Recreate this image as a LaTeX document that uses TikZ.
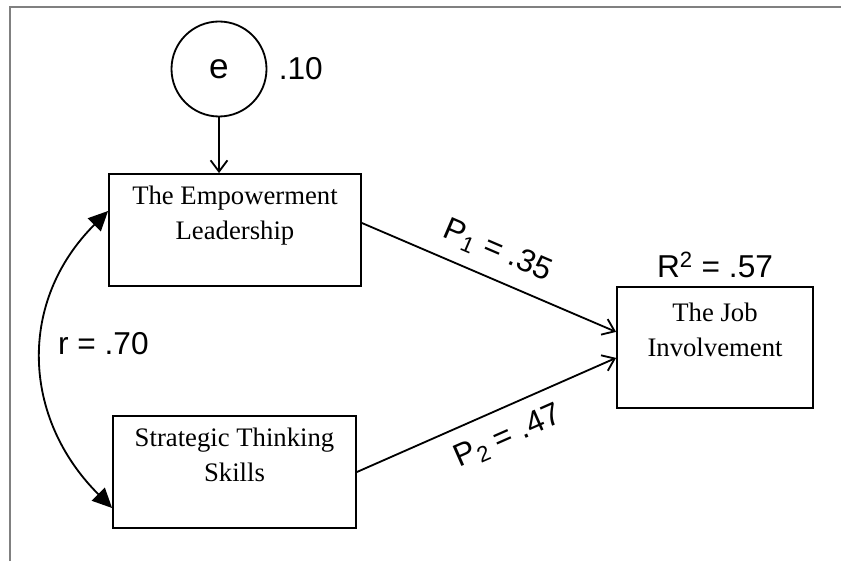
\documentclass[tikz,border=0pt]{standalone}
\usepackage{fontspec}
\setmainfont{Liberation Serif}
\setsansfont{Liberation Sans}
\usetikzlibrary{arrows.meta,positioning}
\definecolor{framegray}{RGB}{128,128,128}

\begin{document}
\begin{tikzpicture}[
  var/.style={rectangle, draw, line width=1.3pt, align=center, font=\fontsize{19}{25}\selectfont},
  lab/.style={font=\sffamily\fontsize{22.5}{26}\selectfont},
  effect/.style={->, >={Straight Barb[length=8pt,width=12pt]}, line width=1.3pt},
  corr/.style={<->, >={Triangle[length=14pt,width=13pt]}, line width=1.3pt}
]
\useasboundingbox (0,0) rectangle (21.025,14.025);
\draw[framegray, line width=1.4pt] (0.25,0) -- (0.25,13.85) -- (21.025,13.85);

\node[circle, draw, line width=1.3pt, minimum size=2.375cm, lab, font=\sffamily\fontsize{25}{28}\selectfont] (e) at (5.475,12.3) {e};
\node[var, minimum width=6.3cm, minimum height=2.8cm] (emp) at (5.875,8.275) {The Empowerment\\Leadership\\~};
\node[var, minimum width=6.075cm, minimum height=2.8cm] (strat) at (5.8625,2.225) {Strategic Thinking\\Skills\\~};
\node[var, minimum width=4.9cm, minimum height=3.025cm] (job) at (17.875,5.3375) {The Job\\Involvement\\~};
\node[lab, right=0.16cm of e] (evar) {.10};
\node[lab, above=0.08cm of job] (rsq) {R\textsuperscript{2} = .57};

\draw[effect] (e.south) -- (e.south |- emp.north);
\draw[effect] ([yshift=0.175cm]emp.east) -- node[lab, sloped, above=6pt, pos=0.49] (p1) {P\textsubscript{1} = .35} ([yshift=0.39cm]job.west);
\draw[effect] (strat.east) -- node[lab, sloped, below=7pt, pos=0.54] (p2) {P\textsubscript{2} = .47} ([yshift=-0.26cm]job.west);
\draw[corr] ([yshift=0.475cm]emp.west) to[out=225, in=135, looseness=1.1] node[lab, right=7pt, pos=0.45] (rlab) {r = .70} ([yshift=-0.9cm]strat.west);
\end{tikzpicture}
\end{document}
